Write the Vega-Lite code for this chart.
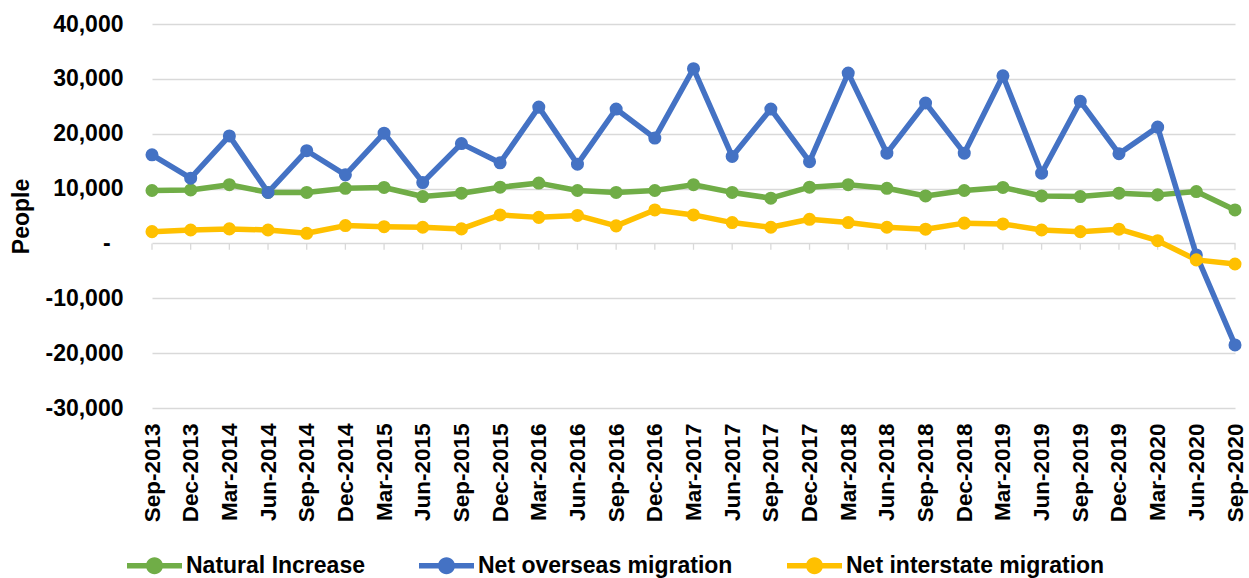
{
  "$schema": "https://vega.github.io/schema/vega-lite/v6.json",
  "width": 1083,
  "height": 384,
  "autosize": {"type": "none"},
  "padding": {"left": 152, "top": 24, "right": 14, "bottom": 170},
  "background": "white",
  "config": {
    "view": {"stroke": null},
    "font": "Liberation Sans",
    "axisX": {
      "title": null,
      "labelAngle": -90,
      "labelFontSize": 22.5,
      "labelFontWeight": "bold",
      "labelColor": "#000000",
      "labelPadding": 15,
      "ticks": false,
      "domain": false,
      "grid": false
    }
  },
  "data": {
    "values": [
      {"quarter": "Sep-2013", "Natural Increase": 9650, "Net overseas migration": 16150, "Net interstate migration": 2150},
      {"quarter": "Dec-2013", "Natural Increase": 9750, "Net overseas migration": 11900, "Net interstate migration": 2450},
      {"quarter": "Mar-2014", "Natural Increase": 10700, "Net overseas migration": 19600, "Net interstate migration": 2650},
      {"quarter": "Jun-2014", "Natural Increase": 9300, "Net overseas migration": 9300, "Net interstate migration": 2450},
      {"quarter": "Sep-2014", "Natural Increase": 9300, "Net overseas migration": 16900, "Net interstate migration": 1850},
      {"quarter": "Dec-2014", "Natural Increase": 10050, "Net overseas migration": 12500, "Net interstate migration": 3250},
      {"quarter": "Mar-2015", "Natural Increase": 10200, "Net overseas migration": 20100, "Net interstate migration": 3050},
      {"quarter": "Jun-2015", "Natural Increase": 8550, "Net overseas migration": 11100, "Net interstate migration": 2950},
      {"quarter": "Sep-2015", "Natural Increase": 9150, "Net overseas migration": 18200, "Net interstate migration": 2650},
      {"quarter": "Dec-2015", "Natural Increase": 10250, "Net overseas migration": 14700, "Net interstate migration": 5200},
      {"quarter": "Mar-2016", "Natural Increase": 11000, "Net overseas migration": 24850, "Net interstate migration": 4750},
      {"quarter": "Jun-2016", "Natural Increase": 9650, "Net overseas migration": 14450, "Net interstate migration": 5100},
      {"quarter": "Sep-2016", "Natural Increase": 9300, "Net overseas migration": 24500, "Net interstate migration": 3200},
      {"quarter": "Dec-2016", "Natural Increase": 9650, "Net overseas migration": 19200, "Net interstate migration": 6100},
      {"quarter": "Mar-2017", "Natural Increase": 10700, "Net overseas migration": 31850, "Net interstate migration": 5200},
      {"quarter": "Jun-2017", "Natural Increase": 9300, "Net overseas migration": 15850, "Net interstate migration": 3800},
      {"quarter": "Sep-2017", "Natural Increase": 8250, "Net overseas migration": 24500, "Net interstate migration": 2950},
      {"quarter": "Dec-2017", "Natural Increase": 10250, "Net overseas migration": 14900, "Net interstate migration": 4400},
      {"quarter": "Mar-2018", "Natural Increase": 10700, "Net overseas migration": 31050, "Net interstate migration": 3800},
      {"quarter": "Jun-2018", "Natural Increase": 10050, "Net overseas migration": 16450, "Net interstate migration": 2950},
      {"quarter": "Sep-2018", "Natural Increase": 8650, "Net overseas migration": 25600, "Net interstate migration": 2600},
      {"quarter": "Dec-2018", "Natural Increase": 9650, "Net overseas migration": 16450, "Net interstate migration": 3700},
      {"quarter": "Mar-2019", "Natural Increase": 10200, "Net overseas migration": 30550, "Net interstate migration": 3550},
      {"quarter": "Jun-2019", "Natural Increase": 8650, "Net overseas migration": 12800, "Net interstate migration": 2450},
      {"quarter": "Sep-2019", "Natural Increase": 8550, "Net overseas migration": 25900, "Net interstate migration": 2150},
      {"quarter": "Dec-2019", "Natural Increase": 9150, "Net overseas migration": 16350, "Net interstate migration": 2600},
      {"quarter": "Mar-2020", "Natural Increase": 8850, "Net overseas migration": 21200, "Net interstate migration": 500},
      {"quarter": "Jun-2020", "Natural Increase": 9450, "Net overseas migration": -2100, "Net interstate migration": -3000},
      {"quarter": "Sep-2020", "Natural Increase": 6100, "Net overseas migration": -18500, "Net interstate migration": -3750}
    ]
  },
  "layer": [
    {
      "description": "Category tick marks hanging below the zero line",
      "mark": {"type": "rule", "color": "#D9D9D9", "strokeWidth": 1.3},
      "encoding": {
        "x": {"field": "quarter", "type": "ordinal", "sort": null, "scale": {"type": "point", "padding": 0}},
        "y": {"datum": 0, "type": "quantitative", "scale": {"domain": [-30000, 40000], "nice": false, "zero": false}},
        "y2": {"datum": -1150}
      }
    },
    {
      "transform": [
        {"fold": ["Natural Increase", "Net overseas migration", "Net interstate migration"], "as": ["series", "people"]}
      ],
      "encoding": {
        "x": {
          "field": "quarter",
          "type": "ordinal",
          "sort": null,
          "scale": {"type": "point", "padding": 0}
        },
        "y": {
          "field": "people",
          "type": "quantitative",
          "scale": {"domain": [-30000, 40000], "nice": false, "zero": false},
          "axis": {
            "title": "People",
            "titleFontSize": 23,
            "titleFontWeight": "bold",
            "titleColor": "#000000",
            "titlePadding": 11,
            "values": [-30000, -20000, -10000, 0, 10000, 20000, 30000, 40000],
            "labelExpr": "datum.value == 0 ? '-\u00a0\u00a0\u200b' : (datum.value < 0 ? '-' : '') + format(abs(datum.value), ',')",
            "labelFontSize": 23,
            "labelFontWeight": "bold",
            "labelColor": "#000000",
            "labelPadding": 29,
            "ticks": false,
            "domain": false,
            "grid": true,
            "gridColor": "#D9D9D9",
            "gridWidth": 1.3
          }
        },
        "color": {
          "field": "series",
          "type": "nominal",
          "scale": {
            "domain": ["Natural Increase", "Net overseas migration", "Net interstate migration"],
            "range": ["#70AD47", "#4472C4", "#FFC000"]
          },
          "legend": {
            "title": null,
            "orient": "none",
            "direction": "horizontal",
            "legendX": -25,
            "legendY": 514,
            "padding": 0,
            "symbolType": "M-1,-0.1 L1,-0.1 L1,0.1 L-1,0.1 Z M-0.31,0 A0.31,0.31 0 1,1 0.31,0 A0.31,0.31 0 1,1 -0.31,0 Z",
            "symbolSize": 3025,
            "symbolStrokeWidth": 0,
            "labelFontSize": 23,
            "labelFontWeight": "bold",
            "labelColor": "#000000",
            "labelOffset": 4,
            "columnPadding": 54,
            "labelLimit": 400,
            "encode": {
              "symbols": {
                "update": {
                  "fill": {"scale": "color", "field": "value"},
                  "stroke": {"value": "transparent"},
                  "opacity": {"value": 1}
                }
              }
            }
          }
        }
      },
      "layer": [
        {"mark": {"type": "line", "strokeWidth": 5.5, "strokeJoin": "round"}},
        {"mark": {"type": "point", "filled": true, "size": 170, "opacity": 1}}
      ]
    }
  ]
}
